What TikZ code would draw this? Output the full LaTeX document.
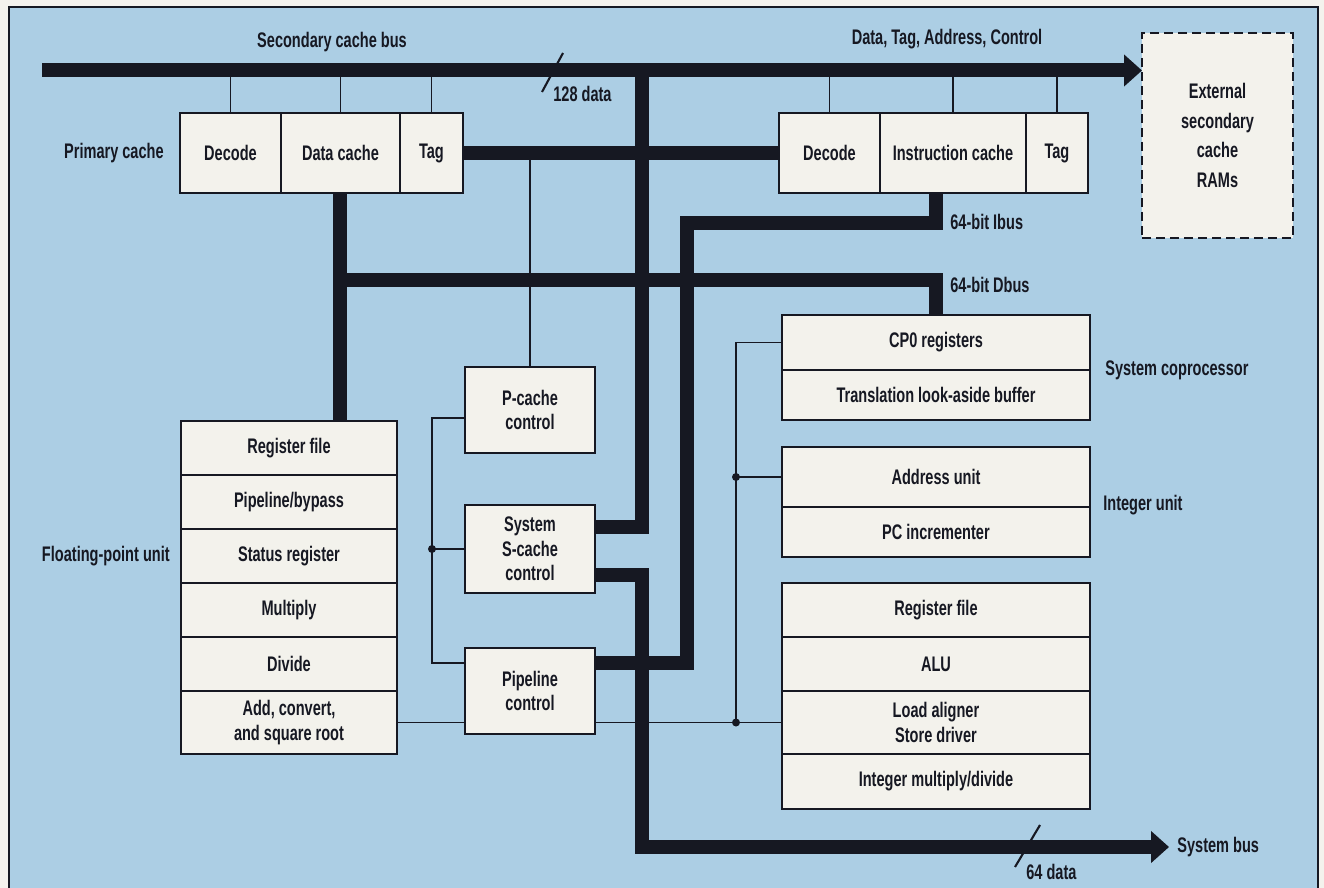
\documentclass[tikz,border=0pt]{standalone}
\usepackage{fontspec}
\setmainfont{Liberation Sans}[FakeStretch=0.69]
\usetikzlibrary{arrows.meta, positioning}
\definecolor{panel}{RGB}{172,206,228}
\definecolor{paper}{RGB}{244,242,237}
\definecolor{cellbg}{RGB}{243,242,236}
\definecolor{ink}{RGB}{22,24,34}

\begin{document}
\begin{tikzpicture}[
  x=0.02cm, y=-0.02cm,
  every node/.style={font=\bfseries\fontsize{12pt}{14pt}\selectfont, text=ink},
  box/.style={draw=ink, line width=1.1pt, fill=cellbg, inner sep=0pt, outer sep=0pt, align=center},
  pcrow/.style={box, minimum height=1.6cm},
  fcell/.style={box, minimum width=4.32cm, minimum height=1.08cm},
  rcell/.style={box, minimum width=6.16cm},
  ctlbox/.style={box, minimum width=2.6cm},
  lbl/.style={inner sep=0pt},
  bus/.style={draw=ink, line width=0.28cm},
  busarr/.style={bus, -{Triangle[length=0.36cm, width=0.62cm]}},
  ctl/.style={draw=ink, line width=0.9pt},
  tap/.style={draw=ink, line width=0.7pt},
  slash/.style={draw=ink, line width=1.2pt}
]
  \useasboundingbox (0,0) rectangle (1324,888);
  \fill[paper] (0,0) rectangle (1324,888);
  \fill[panel] (9,7) rectangle (1318,888);
  \draw[ink, line width=0.7pt] (9,888) -- (9,7) -- (1318,7) -- (1318,888);

  % primary cache and instruction cache
  \node[pcrow, minimum width=2.02cm, anchor=north west] (dcd1) at (180,113) {Decode};
  \node[pcrow, minimum width=2.38cm, right=0pt of dcd1] (dat1) {Data cache};
  \node[pcrow, minimum width=1.26cm, right=0pt of dat1] (tag1) {Tag};
  \node[pcrow, minimum width=2.02cm, anchor=north west] (dcd2) at (779,113) {Decode};
  \node[pcrow, minimum width=2.92cm, right=0pt of dcd2] (ins2) {Instruction cache};
  \node[pcrow, minimum width=1.24cm, right=0pt of ins2] (tag2) {Tag};
  \node[lbl, left=0.32cm of dcd1] (pclbl) {Primary cache};

  \node[box, dashed, dash pattern=on 0.18cm off 0.1cm, line width=1.3pt,
    minimum width=3.02cm, minimum height=4.1cm, anchor=north west,
    font=\bfseries\fontsize{12pt}{17pt}\selectfont] (ext) at (1142,33) {External\\secondary\\cache\\RAMs};

  % floating-point unit
  \node[fcell, anchor=north west] (freg) at (181,421) {Register file};
  \node[fcell, below=0pt of freg] (fpip) {Pipeline/bypass};
  \node[fcell, below=0pt of fpip] (fsta) {Status register};
  \node[fcell, below=0pt of fsta] (fmul) {Multiply};
  \node[fcell, below=0pt of fmul] (fdiv) {Divide};
  \node[fcell, minimum height=1.26cm, below=0pt of fdiv] (fadd) {Add, convert,\\and square root};
  \node[lbl, left=0.22cm of fsta] (fpulbl) {Floating-point unit};

  % control blocks
  \node[ctlbox, minimum height=1.72cm, anchor=north west] (pcc) at (465,367) {P-cache\\control};
  \node[ctlbox, minimum height=1.76cm, anchor=north west] (ssc) at (465,505) {System\\S-cache\\control};
  \node[ctlbox, minimum height=1.72cm, anchor=north west] (ppc) at (465,648) {Pipeline\\control};

  % system coprocessor and integer unit
  \node[rcell, minimum height=1.1cm, anchor=north west] (cp0) at (782,315) {CP0 registers};
  \node[rcell, minimum height=1.0cm, below=0pt of cp0] (tlb) {Translation look-aside buffer};
  \node[rcell, minimum height=1.2cm, anchor=north west] (adr) at (782,447) {Address unit};
  \node[rcell, minimum height=1.0cm, below=0pt of adr] (pci) {PC incrementer};
  \node[rcell, minimum height=1.08cm, anchor=north west] (ireg) at (782,583) {Register file};
  \node[rcell, minimum height=1.08cm, below=0pt of ireg] (alu) {ALU};
  \node[rcell, minimum height=1.26cm, below=0pt of alu] (lds) {Load aligner\\Store driver};
  \node[rcell, minimum height=1.1cm, below=0pt of lds] (imd) {Integer multiply/divide};
  \node[lbl, anchor=west] (cplbl) at (1105,370) {System coprocessor};
  \node[lbl, anchor=west] (iulbl) at (1103,505) {Integer unit};

  \coordinate (busL) at (42,70.5);
  \coordinate (tapA) at (642,70.5);
  \coordinate (dbus) at (341,280);
  \coordinate (ibus) at (687,223);
  \coordinate (cl) at (432,549);
  \coordinate (il) at (736,722.5);
  \coordinate (sysbus) at (1169,847);

  % thin lines
  \foreach \n in {dcd1,dat1,tag1,dcd2,ins2,tag2}
    \draw[tap] (\n.north) -- (\n.north |- busL);
  \draw[ctl] (pcc.north) -- (pcc.north |- tag1.east);
  \draw[ctl] ([yshift=-0.16cm]pcc.west) -| (cl) |- ([yshift=0.56cm]ppc.west);
  \draw[ctl] (cl) -- (ssc.west);
  \fill[ink] (cl) circle[radius=0.08cm];
  \draw[ctl] (fadd.east) -- (ppc.west |- fadd.east);
  \draw[ctl] (ppc.east |- lds.west) -- (lds.west);
  \draw[ctl] (cp0.west) -| (il);
  \draw[ctl] (il |- adr.west) -- (adr.west);
  \fill[ink] (il |- adr.west) circle[radius=0.08cm];
  \fill[ink] (il) circle[radius=0.08cm];

  % buses
  \draw[busarr] (busL) -- (ext.west |- busL);
  \draw[bus] (tag1.east) -- (dcd2.west);
  \draw[bus] (tapA) |- ([yshift=0.44cm]ssc.east);
  \draw[bus] (dat1.south) -- (dat1.south |- freg.north);
  \draw[bus] (dbus) -| (cp0.north);
  \draw[bus] (cp0.north |- ins2.south) |- (ibus) |- ([yshift=0.56cm]ppc.east);
  \draw[busarr] ([yshift=-0.52cm]ssc.east) -| (tapA |- sysbus) -- (sysbus);

  % labels
  \node[lbl] (sbuslbl) at (332,42) {Secondary cache bus};
  \node[lbl] (dtaclbl) at (947,39) {Data, Tag, Address, Control};
  \draw[slash] (542,92) -- (563,53);
  \node[lbl, anchor=west] (d128) at (553,94) {128 data};
  \node[lbl, anchor=west] (ibuslbl) at (950,222) {64-bit Ibus};
  \node[lbl, anchor=west] (dbuslbl) at (950,285) {64-bit Dbus};
  \draw[slash] (1015,867) -- (1040,825);
  \node[lbl, anchor=west] (d64) at (1026,872) {64 data};
  \node[lbl, anchor=west] (sysbuslbl) at (1177,847) {System bus};
\end{tikzpicture}
\end{document}
